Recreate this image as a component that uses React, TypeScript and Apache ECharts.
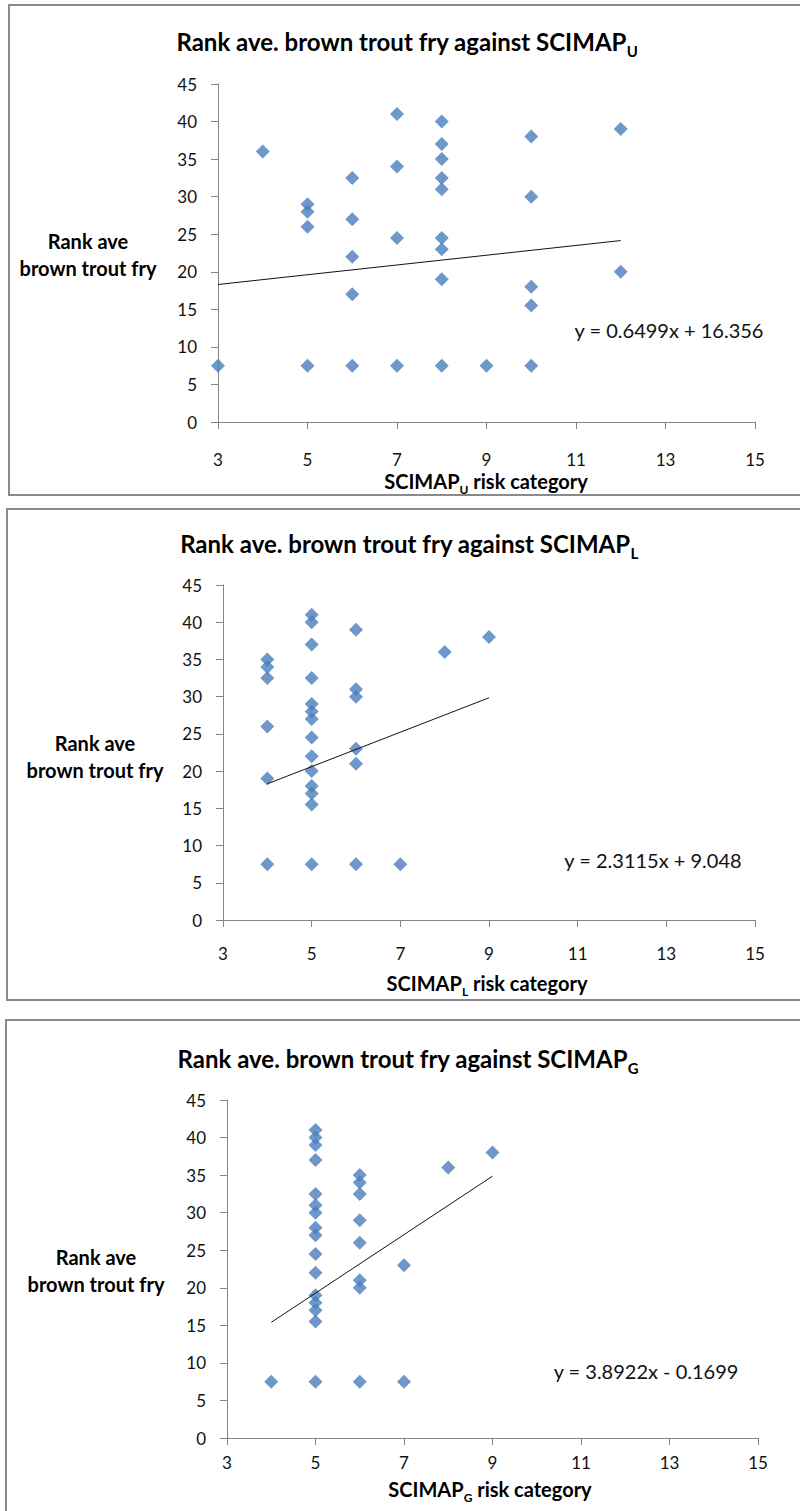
import React, { useEffect, useRef } from "react";
import * as echarts from "echarts";

// ---- data ----
const X_TICKS = [3, 5, 7, 9, 11, 13, 15];
const Y_MIN = 0;
const Y_MAX = 45;
const Y_STEP = 5;

// SCIMAP_U
const uX = [3, 4, 5, 5, 5, 5, 6, 6, 6, 6, 6, 7, 7, 7, 7, 8, 8, 8, 8, 8, 8, 8, 8, 8, 9, 10, 10, 10, 10, 10, 12, 12];
const uY = [7.5, 36, 29, 28, 26, 7.5, 32.5, 27, 22, 17, 7.5, 41, 34, 24.5, 7.5, 40, 37, 35, 32.5, 31, 24.5, 23, 19, 7.5, 7.5, 38, 30, 18, 15.5, 7.5, 39, 20];

// SCIMAP_L
const lX = [4, 4, 4, 4, 4, 4, 5, 5, 5, 5, 5, 5, 5, 5, 5, 5, 5, 5, 5, 5, 6, 6, 6, 6, 6, 6, 7, 8, 9];
const lY = [35, 34, 32.5, 26, 19, 7.5, 41, 40, 37, 32.5, 29, 28, 27, 24.5, 22, 20, 18, 17, 15.5, 7.5, 39, 31, 30, 23, 21, 7.5, 7.5, 36, 38];

// SCIMAP_G
const gX = [4, 5, 5, 5, 5, 5, 5, 5, 5, 5, 5, 5, 5, 5, 5, 5, 5, 6, 6, 6, 6, 6, 6, 6, 6, 7, 7, 8, 9];
const gY = [7.5, 41, 40, 39, 37, 32.5, 31, 30, 28, 27, 24.5, 22, 19, 18, 17, 15.5, 7.5, 35, 34, 32.5, 29, 26, 21, 20, 7.5, 23, 7.5, 36, 38];

const SLOPES = [0.6499, 2.3115, 3.8922];
const INTERCEPTS = [16.356, 9.048, -0.1699];
const EQUATIONS = ["y = 0.6499x + 16.356", "y = 2.3115x + 9.048", "y = 3.8922x - 0.1699"];
const SUBS = ["U", "L", "G"];
const TITLE_MAIN = "Rank ave. brown trout fry against SCIMAP";
const X_NAME_TAIL = " risk category";
const Y_NAME = "Rank ave\nbrown trout fry";

// ---- layout ----
const FONT = "Lato";
const PANELS = [
  { box: [9, 5, 800, 490], grid: { left: 218, top: 84, width: 537, height: 338 }, title: [407, 41], yName: [88, 254], xName: [486, 481], eq: [669, 330], margin: 29 },
  { box: [7, 509, 800, 491], grid: { left: 223, top: 585, width: 532, height: 335 }, title: [409, 543], yName: [95, 756], xName: [487, 983], eq: [653, 860], margin: 25 },
  { box: [6, 1020, 800, 500], grid: { left: 227, top: 1100, width: 531, height: 338 }, title: [408, 1058], yName: [96, 1270], xName: [490, 1489], eq: [646, 1371], margin: 16 },
];

const DATA = [
  [uX, uY],
  [lX, lY],
  [gX, gY],
];

export default function App() {
  const ref = useRef<HTMLDivElement>(null);
  useEffect(() => {
    if (!ref.current) return;
    const chart = echarts.init(ref.current, null, { renderer: "svg" });
    const grids: any[] = [];
    const xAxes: any[] = [];
    const yAxes: any[] = [];
    const series: any[] = [];
    const graphics: any[] = [];

    PANELS.forEach((p, i) => {
      grids.push({ ...p.grid, containLabel: false });
      xAxes.push({
        type: "value",
        gridIndex: i,
        min: X_TICKS[0],
        max: X_TICKS[X_TICKS.length - 1],
        splitLine: { show: false },
        axisLine: { show: true, onZero: false, lineStyle: { color: "#868686", width: 1 } },
        axisTick: { show: true, length: 7, customValues: X_TICKS, lineStyle: { color: "#868686" } },
        axisLabel: { customValues: X_TICKS, margin: p.margin, color: "#111", fontSize: 17, fontFamily: FONT },
      });
      yAxes.push({
        type: "value",
        gridIndex: i,
        min: Y_MIN,
        max: Y_MAX,
        interval: Y_STEP,
        splitLine: { show: false },
        axisLine: { show: true, onZero: false, lineStyle: { color: "#868686", width: 1 } },
        axisTick: { show: true, length: 7, lineStyle: { color: "#868686" } },
        axisLabel: { margin: 21, color: "#111", fontSize: 17, fontFamily: FONT },
      });
      const [xs, ys] = DATA[i];
      series.push({
        type: "scatter",
        xAxisIndex: i,
        yAxisIndex: i,
        symbol: "diamond",
        symbolSize: 14,
        itemStyle: { color: "#4a7ebb" },
        data: xs.map((x, k) => [x, ys[k]]),
        z: 3,
      });
      const x0 = Math.min(...xs);
      const x1 = Math.max(...xs);
      series.push({
        type: "line",
        xAxisIndex: i,
        yAxisIndex: i,
        symbol: "none",
        silent: true,
        lineStyle: { color: "#111", width: 1 },
        data: [
          [x0, SLOPES[i] * x0 + INTERCEPTS[i]],
          [x1, SLOPES[i] * x1 + INTERCEPTS[i]],
        ],
        z: 4,
      });

      graphics.push({
        type: "rect",
        shape: { x: p.box[0], y: p.box[1], width: p.box[2], height: p.box[3] },
        style: { fill: "none", stroke: "#8a8a8a", lineWidth: 2 },
        silent: true,
      });
      graphics.push({
        type: "text",
        x: p.title[0],
        y: p.title[1],
        style: {
          text: `{m|${TITLE_MAIN}}{s|${SUBS[i]}}`,
          textAlign: "center",
          textVerticalAlign: "middle",
          rich: {
            m: { fontSize: 24, fontWeight: "bold", fontFamily: FONT, fill: "#000", lineHeight: 35, verticalAlign: "middle" },
            s: { fontSize: 15, fontWeight: "bold", fontFamily: FONT, fill: "#000", lineHeight: 15, verticalAlign: "bottom" },
          },
        },
      });
      graphics.push({
        type: "text",
        x: p.yName[0],
        y: p.yName[1],
        style: {
          text: Y_NAME,
          textAlign: "center",
          textVerticalAlign: "middle",
          fontSize: 20,
          fontWeight: "bold",
          fontFamily: FONT,
          lineHeight: 27,
          fill: "#000",
        },
      });
      graphics.push({
        type: "text",
        x: p.xName[0],
        y: p.xName[1],
        style: {
          text: `{m|SCIMAP}{s|${SUBS[i]}}{m|${X_NAME_TAIL}}`,
          textAlign: "center",
          textVerticalAlign: "middle",
          rich: {
            m: { fontSize: 20, fontWeight: "bold", fontFamily: FONT, fill: "#000", lineHeight: 28, verticalAlign: "middle" },
            s: { fontSize: 12, fontWeight: "bold", fontFamily: FONT, fill: "#000", lineHeight: 12, verticalAlign: "bottom" },
          },
        },
      });
      graphics.push({
        type: "text",
        x: p.eq[0],
        y: p.eq[1],
        style: {
          text: EQUATIONS[i],
          textAlign: "center",
          textVerticalAlign: "middle",
          fontSize: 20,
          fontFamily: FONT,
          fill: "#111",
        },
      });
    });

    chart.setOption({
      animation: false,
      backgroundColor: "#fff",
      grid: grids,
      xAxis: xAxes,
      yAxis: yAxes,
      series,
      graphic: { elements: graphics },
    });
    return () => chart.dispose();
  }, []);
  return <div ref={ref} style={{ position: "absolute", left: 0, top: 0, width: 800, height: 1511 }} />;
}
